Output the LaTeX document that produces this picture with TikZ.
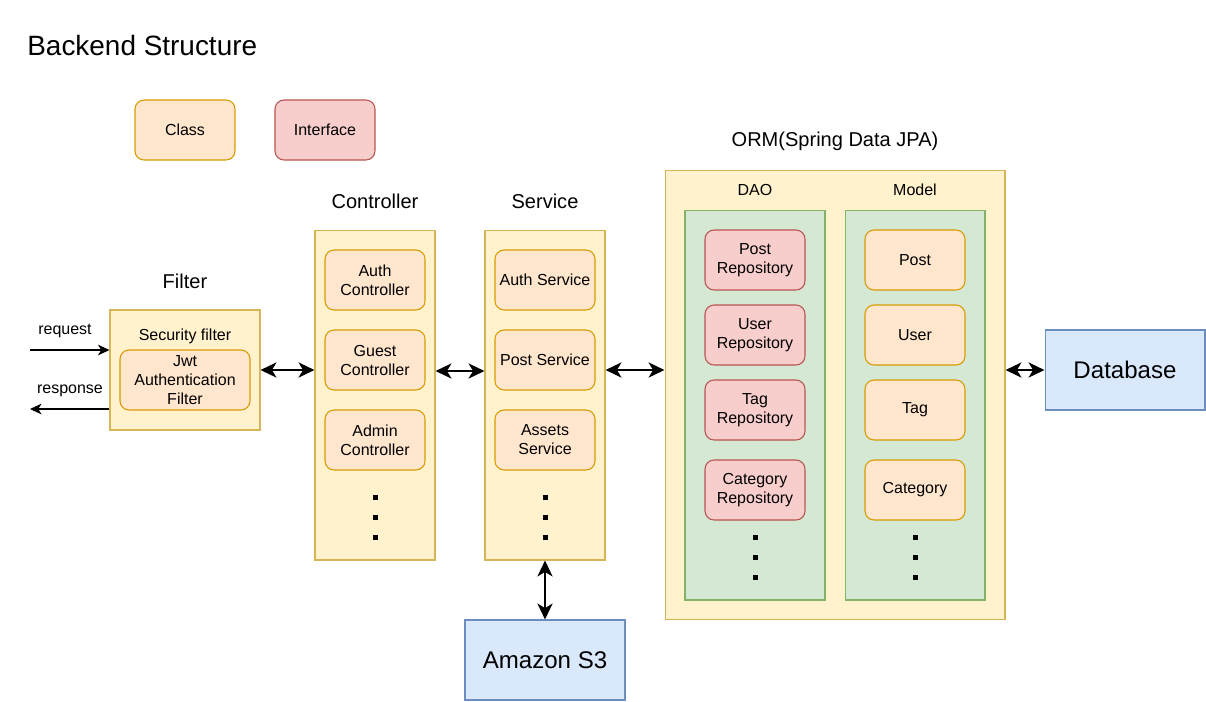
\documentclass[tikz,border=0pt]{standalone}
\usepackage{fontspec}
\setmainfont{Liberation Sans}
\usetikzlibrary{positioning,arrows.meta}
\definecolor{contfill}{HTML}{FFF2CC}
\definecolor{contline}{HTML}{D6B656}
\definecolor{classfill}{HTML}{FFE6CC}
\definecolor{classline}{HTML}{D79B00}
\definecolor{ifacefill}{HTML}{F8CECC}
\definecolor{ifaceline}{HTML}{B85450}
\definecolor{groupfill}{HTML}{D5E8D4}
\definecolor{groupline}{HTML}{82B366}
\definecolor{extfill}{HTML}{DAE8FC}
\definecolor{extline}{HTML}{6C8EBF}

\begin{document}
\begin{tikzpicture}[
		x=0.02cm,y=-0.02cm,
		font=\fontsize{9.1}{10.8}\selectfont,
		every node/.style={inner sep=0pt,align=center},
		classbox/.style={draw=classline,fill=classfill,line width=0.6pt,rounded corners=0.18cm,minimum width=2cm,minimum height=1.2cm},
		ifacebox/.style={classbox,draw=ifaceline,fill=ifacefill},
		contbox/.style={draw=contline,fill=contfill,line width=0.6pt},
		groupbox/.style={draw=groupline,fill=groupfill,line width=0.6pt,minimum width=2.8cm,minimum height=7.8cm},
		extbox/.style={draw=extline,fill=extfill,line width=0.6pt,minimum width=3.2cm,minimum height=1.6cm,font=\fontsize{13.7}{16}\selectfont},
		headlabel/.style={font=\fontsize{11.4}{13}\selectfont},
		biarrow/.style={{Stealth[length=9pt,width=8.5pt,inset=2.5pt]}-{Stealth[length=9pt,width=8.5pt,inset=2.5pt]},line width=1.6pt},
		onearrow/.style={-{Stealth[length=6.5pt,width=6pt,inset=1.8pt]},line width=1pt},
		scale=1]
		% Frame
		\useasboundingbox (0,0) rectangle (1206,701);
		\node[anchor=west,font=\fontsize{15.9}{18}\selectfont] (title) at (27,46) {Backend Structure};
		
		% Legend
		\node[classbox] (legclass) at (185,130) {Class};
		\node[ifacebox] (legiface) at (325,130) {Interface};
		
		% Filter
		\node[headlabel] (filtlabel) at (185,281) {Filter};
		\node[contbox,minimum width=3cm,minimum height=2.4cm] (filt) at (185,370) {};
		\node (secfilt) at (185,336) {Security filter};
		\node[classbox,minimum width=2.6cm] (jwt) at (185,380) {Jwt\\Authentication\\Filter};
		\draw (30,350) coordinate (reqstart);
		\draw (30,409) coordinate (respend);
		\draw[onearrow] (reqstart) -- (filt.west |- reqstart);
		\draw[onearrow] (filt.west |- respend) -- (respend);
		\node (req) at (65,331) {request};
		\node (resp) at (70,391) {response};
		
		% Controller
		\node[headlabel] (ctllabel) at (375,201) {Controller};
		\node[contbox,minimum width=2.4cm,minimum height=6.6cm] (ctl) at (375,395) {};
		\node[classbox] (authctl) at (375,280) {Auth\\Controller};
		\node[classbox] (guestctl) at (375,360) {Guest\\Controller};
		\node[classbox] (adminctl) at (375,440) {Admin\\Controller};
		\foreach \y in {497,517,537}
			\fill (372.5,\y-2.5) rectangle ++(5,5);
		
		% Service
		\node[headlabel] (srvlabel) at (545,201) {Service};
		\node[contbox,minimum width=2.4cm,minimum height=6.6cm] (srv) at (545,395) {};
		\node[classbox] (authsrv) at (545,280) {Auth Service};
		\node[classbox] (postsrv) at (545,360) {Post Service};
		\node[classbox] (assetsrv) at (545,440) {Assets\\Service};
		\foreach \y in {497,517,537}
			\fill (542.5,\y-2.5) rectangle ++(5,5);
		
		% ORM
		\node[headlabel] (ormlabel) at (835,141) {ORM(Spring Data JPA)};
		\node[contbox,minimum width=6.8cm,minimum height=9cm] (orm) at (835,395) {};
		\node (daolabel) at (755,190) {DAO};
		\node (modellabel) at (915,190) {Model};
		\node[groupbox] (dao) at (755,405) {};
		\node[groupbox] (model) at (915,405) {};
		\node[ifacebox] (postrepo) at (755,260) {Post\\Repository};
		\node[ifacebox] (userrepo) at (755,335) {User\\Repository};
		\node[ifacebox] (tagrepo) at (755,410) {Tag\\Repository};
		\node[ifacebox] (catrepo) at (755,490) {Category\\Repository};
		\node[classbox] (post) at (915,260) {Post};
		\node[classbox] (user) at (915,335) {User};
		\node[classbox] (tag) at (915,410) {Tag};
		\node[classbox] (cat) at (915,490) {Category};
		\foreach \y in {537,557,577} {
			\fill (752.5,\y-2.5) rectangle ++(5,5);
			\fill (912.5,\y-2.5) rectangle ++(5,5);
		}
		
		% External
		\node[extbox] (db) at (1125,370) {Database};
		\node[extbox] (s3) at (545,660) {Amazon S3};
		
		% Connections
		\draw[biarrow] (filt.east |- 0,370) -- (ctl.west |- 0,370);
		\draw[biarrow] (ctl.east |- 0,371) -- (srv.west |- 0,371);
		\draw[biarrow] (srv.east |- 0,370) -- (orm.west |- 0,370);
		\draw[biarrow] (orm.east |- db.west) -- (db.west);
		\draw[biarrow] (srv.south) -- (s3.north);
		
\end{tikzpicture}
\end{document}
